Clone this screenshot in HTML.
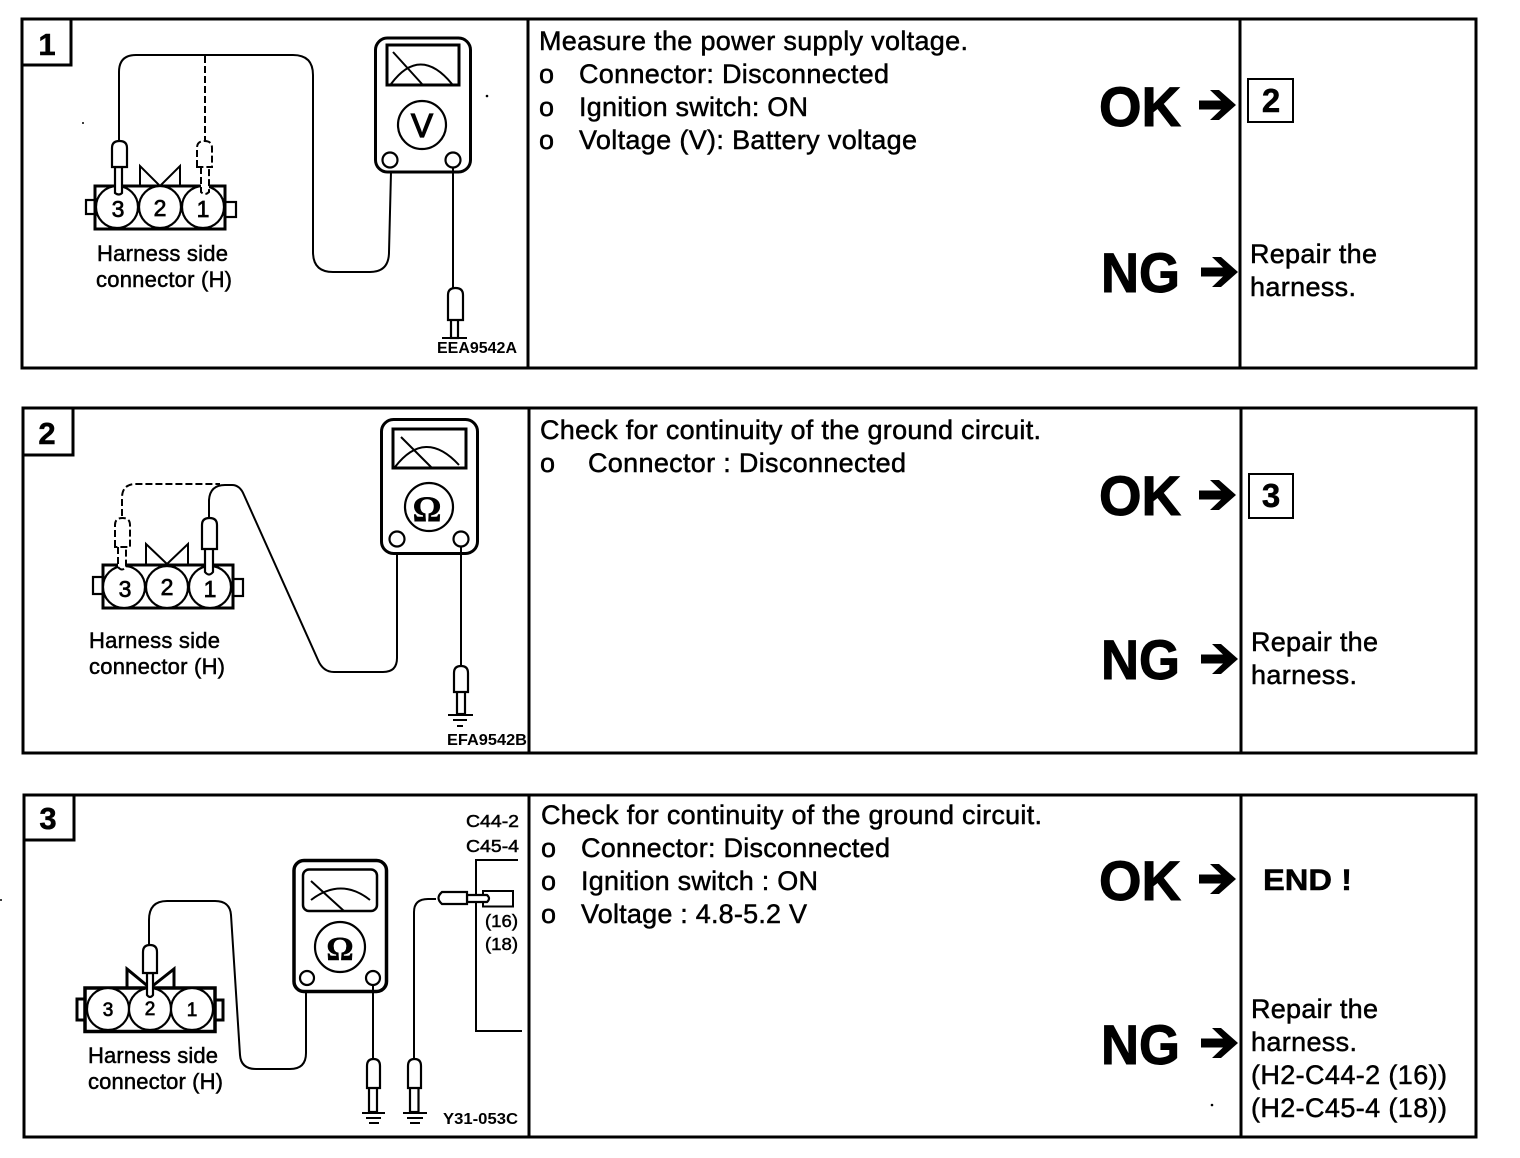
<!DOCTYPE html>
<html><head><meta charset="utf-8"><title>Diagnostic chart</title>
<style>
html,body{margin:0;padding:0;background:#fff}
svg{display:block}
text{font-family:"Liberation Sans",Arial,sans-serif;fill:#000;stroke:#000;stroke-width:.5}
.b{font-size:27px;transform:translateY(-1px)}
.h{font-size:22px;transform:translateY(-1px)}
.s{font-size:15.5px;font-weight:bold;stroke-width:0}
.n{font-size:23px;text-anchor:middle;stroke-width:.7}
.big{font-size:56px;font-weight:bold;stroke-width:1}
.bd{font-size:33px;font-weight:bold;stroke-width:.5}
.lb{font-size:17.5px;stroke-width:.5}
.l{fill:none;stroke:#000;stroke-width:2}
.f{fill:none;stroke:#000;stroke-width:3}
.w{fill:#fff;stroke:#000;stroke-width:2.2}
.d{fill:#fff;stroke:#000;stroke-width:2;stroke-dasharray:7 3}
.dl{fill:none;stroke:#000;stroke-width:2;stroke-dasharray:7 3}
</style></head><body>
<svg width="1520" height="1158" viewBox="0 0 1520 1158" xmlns="http://www.w3.org/2000/svg">
<rect width="1520" height="1158" fill="#fff"/>

<!-- PANEL FRAMES -->
<g class="f" style="fill:none;stroke:#000;stroke-width:3">
<rect x="22" y="19" width="1454" height="349"/><path d="M528 19V368M1240 19V368M22 65H71V19"/>
<rect x="23" y="408" width="1453" height="345"/><path d="M529 408V753M1241 408V753M23 455H73V408"/>
<rect x="24" y="795" width="1452" height="342"/><path d="M529 795V1137M1241 795V1137M24 840H74V795"/>
</g>
<text x="47" y="55" class="bd" text-anchor="middle" style="font-size:31px">1</text>
<text x="47" y="444" class="bd" text-anchor="middle" style="font-size:31px">2</text>
<text x="48" y="829" class="bd" text-anchor="middle" style="font-size:31px">3</text>

<!-- PANEL 1 DIAGRAM -->
<rect x="86" y="200" width="10" height="14" class="w"/><rect x="225" y="202" width="11" height="15" class="w"/>
<rect x="95" y="186" width="130" height="43" class="f" style="fill:#fff"/>
<path d="M117 186V229M160 186V229M203 186V229" class="l"/>
<path d="M140 186V166L160 186L180 166V186" class="l"/>
<circle cx="117" cy="207" r="21" class="w"/><circle cx="160" cy="207" r="21" class="w"/><circle cx="203" cy="207" r="21" class="w"/>
<text x="118" y="217" class="n">3</text><text x="160" y="216" class="n">2</text><text x="203" y="217" class="n">1</text>
<path d="M119 141V72Q119 55 136 55H293Q313 55 313 75V252Q313 272 333 272H370Q389 272 389 252L391 172" class="l"/>
<path d="M205 56V141" class="dl"/>
<path d="M115 167V193Q119 196 122 193V167Z" class="w"/>
<path d="M112 167V148Q112 141 119.500 141Q127 141 127 148V167Z" class="w"/>
<path d="M201 167V192Q205 196 209 192V167" class="d"/>
<path d="M197 167V148Q197 141 204.500 141Q212 141 212 148V167Z" class="d"/>
<rect x="375.500" y="38" width="95" height="134" rx="12" class="f" style="fill:#fff"/>
<rect x="387" y="45" width="72" height="40" class="f"/>
<path d="M393 52L422 84M391 84Q420 45 452 84" class="l"/>
<circle cx="422" cy="125" r="24" class="w"/>
<text x="422" y="137" text-anchor="middle" style="font-size:33px;stroke-width:1.200">V</text>
<circle cx="390" cy="160" r="7.500" class="w"/><circle cx="453" cy="160" r="7.500" class="w"/>
<path d="M453 168V290" class="l"/>
<rect x="451" y="318" width="7" height="20" class="w"/>
<path d="M448 320V295Q448 288 455.500 288Q463 288 463 295V320Z" class="w"/>
<path d="M442 338H467" class="l"/>
<text x="437" y="353" class="s" textLength="80" lengthAdjust="spacingAndGlyphs">EEA9542A</text>
<text x="97" y="262" class="h" textLength="131">Harness side</text>
<text x="96" y="288" class="h" textLength="136">connector (H)</text>

<!-- PANEL 2 DIAGRAM -->
<rect x="93" y="577" width="10" height="17" class="w"/><rect x="233" y="579" width="10" height="17" class="w"/>
<rect x="103" y="565" width="130" height="43" class="f" style="fill:#fff"/>
<path d="M146 565V544L167 564L188 544V565" class="l"/>
<circle cx="124" cy="587" r="21" class="w"/><circle cx="167" cy="587" r="21" class="w"/><circle cx="210" cy="587" r="21" class="w"/>
<text x="125" y="597" class="n">3</text><text x="167" y="595" class="n">2</text><text x="210" y="597" class="n">1</text>
<path d="M209 518V500Q210 485 225 485H232Q240 485 244 495L318 660Q323 672 334 672H383Q397 672 397 658V548" class="l"/>
<path d="M122 516V498Q122 484 136 484H220" class="dl"/>
<path d="M205 548V572Q209 577 213 572V548Z" class="w"/>
<path d="M202 549V525Q202 518 209.500 518Q217 518 217 525V549Z" class="w"/>
<path d="M118 547V567Q122 572 126 567V547" class="d"/>
<path d="M115 547V525Q115 518 122.500 518Q130 518 130 525V547Z" class="d"/>
<rect x="381.500" y="419.500" width="96" height="134" rx="12" class="f" style="fill:#fff"/>
<rect x="393" y="429" width="73" height="39" class="f"/>
<path d="M401 437L432 468M395 467Q425 428 459 465" class="l"/>
<circle cx="429" cy="507" r="24" class="w"/>
<text x="427" y="521" text-anchor="middle" style="font-size:36px;font-weight:bold;font-family:'Liberation Serif',serif">Ω</text>
<circle cx="397" cy="539" r="7.500" class="w"/><circle cx="461" cy="539" r="7.500" class="w"/>
<path d="M461 547V667" class="l"/>
<rect x="457" y="691" width="8" height="23" class="w"/>
<path d="M454 692V673Q454 666 461 666Q468 666 468 673V692Z" class="w"/>
<path d="M448 715H473M453 720H467M457 726H463" class="l"/>
<text x="447" y="745" class="s" textLength="80" lengthAdjust="spacingAndGlyphs">EFA9542B</text>
<text x="89" y="649" class="h" textLength="131">Harness side</text>
<text x="89" y="675" class="h" textLength="136">connector (H)</text>

<!-- PANEL 3 DIAGRAM -->
<rect x="77" y="999" width="9" height="21" class="w" style="stroke-width:3"/><rect x="215" y="1000" width="8" height="20" class="w" style="stroke-width:3"/>
<rect x="85" y="988" width="130" height="43.500" class="f" style="fill:#fff;stroke-width:3.500"/>
<path d="M127 988V969L150 988L174 969V988" class="l" style="stroke-width:3"/>
<circle cx="108" cy="1009" r="21" class="w"/><circle cx="150" cy="1009" r="21" class="w"/><circle cx="192" cy="1009" r="21" class="w"/>
<text x="108" y="1016" class="n" style="font-size:19px">3</text><text x="150" y="1015" class="n" style="font-size:19px">2</text><text x="192" y="1016" class="n" style="font-size:19px">1</text>
<path d="M149 945V920Q149 901 167 901H215Q230 901 231 915L240 1055Q241 1069 256 1069H290Q306 1069 306 1053V993" class="l"/>
<path d="M147 973V995Q150 999 153 995V973Z" class="w"/>
<path d="M143 973V952Q143 945 150 945Q157 945 157 952V973Z" class="w"/>
<rect x="294" y="860.500" width="92.500" height="131" rx="10" class="f" style="fill:#fff;stroke-width:3.500"/>
<rect x="303" y="869.500" width="74" height="41.500" rx="6" class="f" style="stroke-width:2.500"/>
<path d="M311 881L344 911M311 900Q341 877 370 900" class="l"/>
<circle cx="340" cy="947" r="25" class="w"/>
<text x="340" y="960" text-anchor="middle" style="font-size:34px;font-weight:bold;font-family:'Liberation Serif',serif">Ω</text>
<circle cx="307" cy="978" r="7" class="w"/><circle cx="373" cy="978" r="7" class="w"/>
<path d="M373 985V1060" class="l"/>
<rect x="369" y="1087" width="8" height="25" class="w"/>
<path d="M367 1088V1066Q367 1059 373.500 1059Q380 1059 380 1066V1088Z" class="w"/>
<path d="M362 1113H385M366 1118H381M369 1123H379" class="l"/>
<path d="M414 1059V912Q414 899 428 899H436" class="l"/>
<rect x="410" y="1087" width="8.500" height="25" class="w"/>
<path d="M408 1088V1066Q408 1059 414.500 1059Q421 1059 421 1066V1088Z" class="w"/>
<path d="M403 1113H427M407 1118H423M410 1123H420" class="l"/>
<path d="M518 860H476V1031H522" class="l"/>
<rect x="483" y="891" width="30" height="15.500" class="l"/>
<path d="M467 895H487Q491 898.500 487 902H467Z" class="w"/>
<path d="M467 892H442Q435 898 442 904H467Z" class="w"/>
<text x="466" y="827" class="lb" textLength="53" lengthAdjust="spacingAndGlyphs">C44-2</text>
<text x="466" y="852" class="lb" textLength="53" lengthAdjust="spacingAndGlyphs">C45-4</text>
<text x="485" y="927" class="lb" textLength="33" lengthAdjust="spacingAndGlyphs">(16)</text>
<text x="485" y="950" class="lb" textLength="33" lengthAdjust="spacingAndGlyphs">(18)</text>
<text x="443" y="1124" class="s" textLength="75" lengthAdjust="spacingAndGlyphs">Y31-053C</text>
<text x="88" y="1064" class="h" textLength="130">Harness side</text>
<text x="88" y="1090" class="h" textLength="135">connector (H)</text>

<!-- MIDDLE TEXT -->
<text x="539" y="51" class="b" textLength="429">Measure the power supply voltage.</text>
<text x="539" y="84" class="b">o</text><text x="579" y="84" class="b" textLength="310">Connector: Disconnected</text>
<text x="539" y="117" class="b">o</text><text x="579" y="117" class="b" textLength="229">Ignition switch: ON</text>
<text x="539" y="150" class="b">o</text><text x="579" y="150" class="b" textLength="338">Voltage (V): Battery voltage</text>

<text x="540" y="440" class="b" textLength="501">Check for continuity of the ground circuit.</text>
<text x="540" y="473" class="b">o</text><text x="588" y="473" class="b" textLength="318">Connector : Disconnected</text>

<text x="541" y="825" class="b" textLength="501">Check for continuity of the ground circuit.</text>
<text x="541" y="858" class="b">o</text><text x="581" y="858" class="b" textLength="309">Connector: Disconnected</text>
<text x="541" y="891" class="b">o</text><text x="581" y="891" class="b" textLength="237">Ignition switch : ON</text>
<text x="541" y="924" class="b">o</text><text x="581" y="924" class="b" textLength="226">Voltage : 4.8-5.2 V</text>

<!-- OK / NG -->
<text x="1099" y="126" class="big" textLength="82" lengthAdjust="spacingAndGlyphs">OK</text>
<text x="1101" y="292" class="big" textLength="79" lengthAdjust="spacingAndGlyphs">NG</text>
<text x="1099" y="515" class="big" textLength="82" lengthAdjust="spacingAndGlyphs">OK</text>
<text x="1101" y="679" class="big" textLength="79" lengthAdjust="spacingAndGlyphs">NG</text>
<text x="1099" y="900" class="big" textLength="82" lengthAdjust="spacingAndGlyphs">OK</text>
<text x="1101" y="1064" class="big" textLength="79" lengthAdjust="spacingAndGlyphs">NG</text>

<path transform="translate(1236 105)" d="M-37-4.500H-15L-26-15H-17L0 0L-17 15H-26L-15 4.500H-37Z"/>
<path transform="translate(1238 272)" d="M-37-4.500H-15L-26-15H-17L0 0L-17 15H-26L-15 4.500H-37Z"/>
<path transform="translate(1236 495)" d="M-37-4.500H-15L-26-15H-17L0 0L-17 15H-26L-15 4.500H-37Z"/>
<path transform="translate(1238 659)" d="M-37-4.500H-15L-26-15H-17L0 0L-17 15H-26L-15 4.500H-37Z"/>
<path transform="translate(1236 879)" d="M-37-4.500H-15L-26-15H-17L0 0L-17 15H-26L-15 4.500H-37Z"/>
<path transform="translate(1238 1043)" d="M-37-4.500H-15L-26-15H-17L0 0L-17 15H-26L-15 4.500H-37Z"/>

<!-- RIGHT COLUMN -->
<rect x="1248" y="79" width="45" height="43" class="l"/>
<text x="1271" y="112" class="bd" text-anchor="middle">2</text>
<rect x="1249" y="474" width="44" height="44" class="l"/>
<text x="1271" y="507" class="bd" text-anchor="middle">3</text>
<text x="1263" y="890" class="bd" textLength="89" lengthAdjust="spacingAndGlyphs" style="font-size:30px">END !</text>

<text x="1250" y="264" class="b" textLength="127">Repair the</text>
<text x="1250" y="297" class="b" textLength="106">harness.</text>
<text x="1251" y="652" class="b" textLength="127">Repair the</text>
<text x="1251" y="685" class="b" textLength="106">harness.</text>
<text x="1251" y="1019" class="b" textLength="127">Repair the</text>
<text x="1251" y="1052" class="b" textLength="106">harness.</text>
<text x="1251" y="1085" class="b" textLength="196">(H2-C44-2 (16))</text>
<text x="1251" y="1118" class="b" textLength="196">(H2-C45-4 (18))</text>

<!-- SPECKS -->
<circle cx="487" cy="96" r="1.300"/><circle cx="83" cy="123" r="1"/><circle cx="1212" cy="1105" r="1.300"/><circle cx="1" cy="900" r="1"/>
</svg>
</body></html>
